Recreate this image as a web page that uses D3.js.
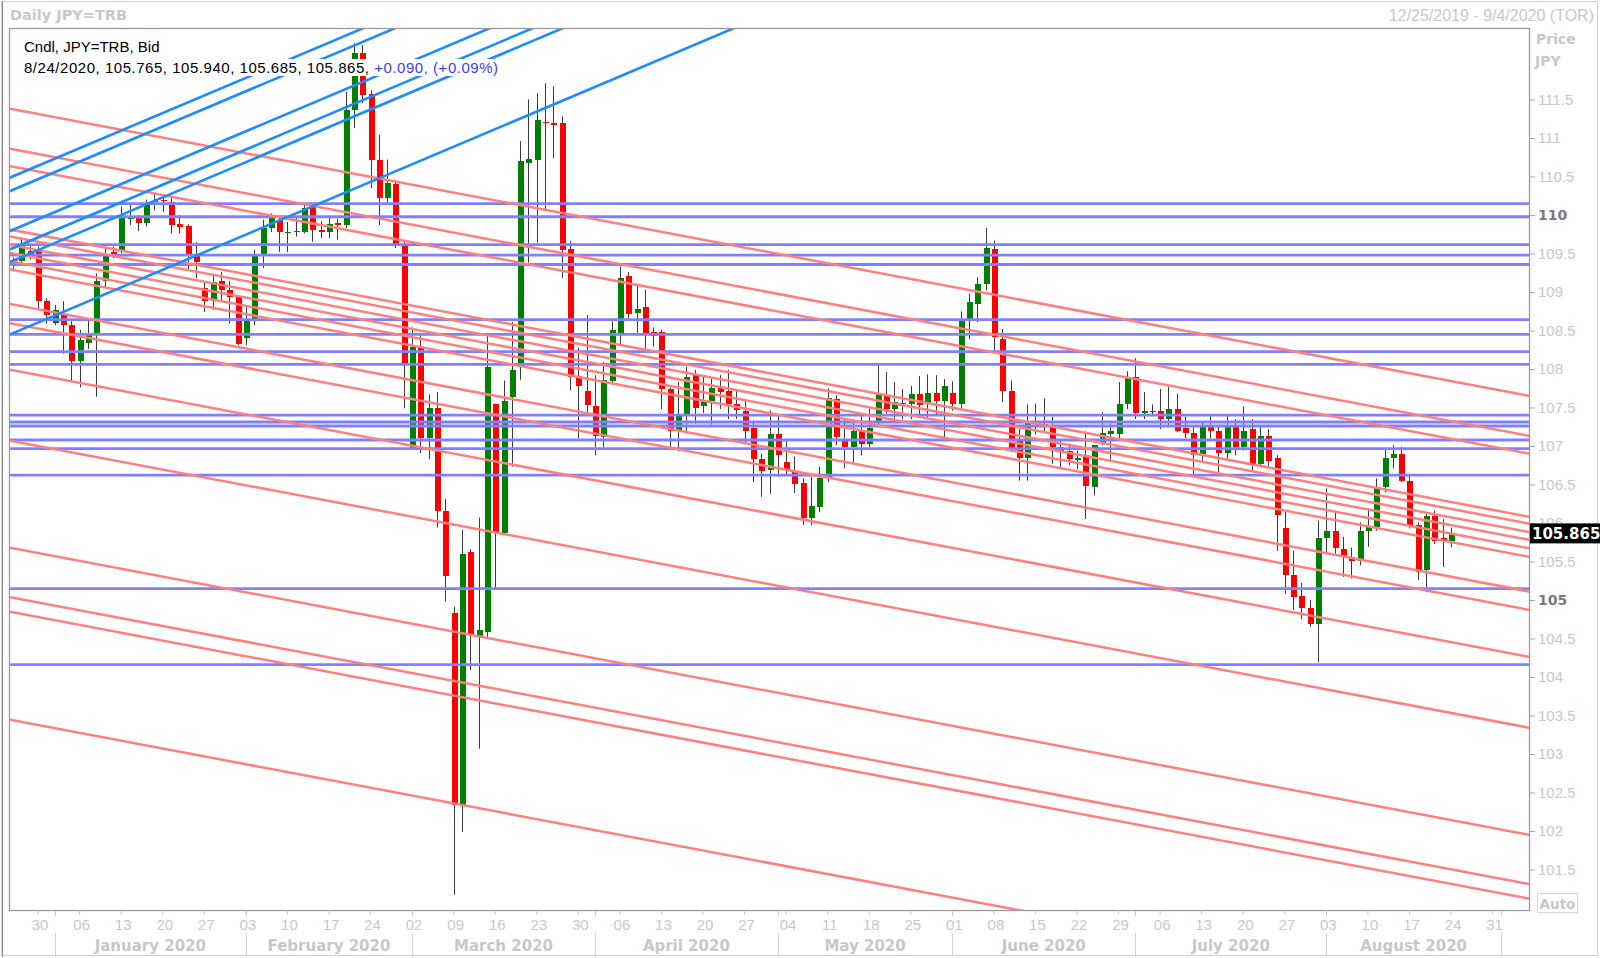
<!DOCTYPE html>
<html><head><meta charset="utf-8">
<script src="https://cdn.jsdelivr.net/npm/d3@7"></script>
<style>html,body{margin:0;padding:0;background:#fff}svg{display:block}</style>
</head><body>
<svg id="chart" width="1600" height="958"></svg>
<script>
// ---------------- DATA ----------------
const symbol = "JPY=TRB";
const rangeStart = new Date(2019, 11, 25);
const rangeEnd = new Date(2020, 8, 4);

const opens = [
109.41,109.40,109.53,109.53,108.88,108.60,108.72,108.57,108.10,108.34,
108.44,109.14,109.52,109.53,109.95,109.96,109.90,110.17,110.20,110.17,
109.88,109.86,109.48,109.05,108.88,109.14,109.03,108.94,108.40,108.64,
109.48,109.83,109.94,109.76,109.78,109.78,110.10,109.81,109.78,109.89,
109.87,111.36,112.10,111.57,110.72,110.22,110.40,109.61,106.98,108.29,
107.10,107.50,106.15,104.83,102.34,105.62,104.53,104.58,107.54,105.87,
107.63,108.02,110.67,110.72,111.21,111.20,111.19,109.56,107.91,107.72,
107.52,107.12,107.85,108.47,109.21,108.73,108.80,108.48,108.48,107.74,
107.19,107.39,107.93,107.52,107.59,107.75,107.71,107.55,107.46,107.23,
106.83,106.69,107.15,106.79,106.68,106.52,106.06,106.21,106.59,107.61,
107.07,106.99,107.20,107.03,107.31,107.66,107.48,107.55,107.54,107.67,
107.54,107.69,107.59,107.69,107.55,108.62,108.85,109.10,109.56,108.39,
107.72,107.06,106.84,107.30,107.29,107.25,106.99,106.94,106.83,106.88,
106.47,107.04,107.16,107.16,107.55,107.90,107.43,107.45,107.45,107.35,
107.48,107.23,107.17,106.87,107.25,107.19,106.91,107.25,106.99,107.22,
106.76,107.13,106.84,105.93,105.33,105.05,104.90,104.69,105.80,105.90,
105.66,105.56,105.50,105.89,105.95,106.47,106.84,106.89,106.55,105.97,
105.39,106.09,105.80,105.765];
const highs = [
109.45,109.70,109.60,109.59,108.92,108.83,108.88,108.62,108.51,108.64,
109.24,109.57,109.59,110.11,110.13,110.00,110.20,110.28,110.24,110.22,
110.00,109.88,109.65,109.13,109.22,109.26,109.14,108.96,108.81,109.55,
109.94,110.02,109.98,109.91,109.96,110.13,110.13,109.92,109.97,109.95,
111.60,112.23,112.21,111.62,111.04,110.72,110.45,109.66,108.54,108.47,
107.67,107.70,106.31,104.91,105.91,105.66,106.07,108.47,107.55,107.85,
108.61,110.96,111.50,111.58,111.71,111.67,111.28,109.66,108.27,108.70,
107.92,108.09,108.62,109.33,109.26,109.09,109.03,108.54,108.51,107.76,
107.83,108.03,107.99,107.92,107.87,107.92,107.99,107.73,107.60,107.33,
106.90,107.46,107.40,107.06,106.86,106.58,106.60,106.73,107.75,107.66,
107.35,107.35,107.40,107.48,108.05,107.96,107.83,107.74,107.78,107.91,
107.93,107.92,107.87,107.84,108.75,108.98,109.19,109.83,109.67,108.52,
107.85,107.22,107.54,107.55,107.62,107.38,107.09,107.03,106.94,107.19,
107.01,107.44,107.29,107.83,107.97,108.14,107.70,107.54,107.74,107.77,
107.68,107.38,107.25,107.30,107.39,107.26,107.39,107.35,107.51,107.35,
107.25,107.22,106.88,106.16,105.64,105.22,105.00,106.03,106.45,106.16,
105.82,105.68,106.01,106.19,106.58,106.96,107.01,106.99,106.62,106.01,
106.12,106.16,106.05,105.94];
const lows = [
109.27,109.37,109.42,108.79,108.59,108.57,108.20,107.84,107.76,108.26,
107.64,109.05,109.44,109.50,109.87,109.79,109.85,110.06,110.04,109.76,
109.76,109.29,109.18,108.74,108.77,108.88,108.59,108.31,108.31,108.57,
109.31,109.78,109.52,109.52,109.72,109.76,109.65,109.70,109.70,109.68,
109.83,111.13,111.45,110.35,109.87,110.13,109.57,107.49,106.96,106.91,
106.83,105.94,104.98,101.17,101.99,104.09,103.07,104.51,105.15,105.87,
106.73,107.86,109.38,109.64,110.07,110.74,109.18,107.72,107.10,107.40,
106.88,106.98,107.80,108.32,108.66,108.47,108.22,108.29,107.48,106.98,
106.93,107.16,107.29,107.43,107.28,107.48,107.35,107.35,107.03,106.53,
106.34,106.38,106.60,106.61,106.39,105.97,105.97,106.14,106.53,107.01,
106.71,106.76,106.88,106.99,107.27,107.42,107.35,107.35,107.35,107.38,
107.35,107.40,107.09,107.46,107.49,108.39,108.61,109.02,108.22,107.57,
106.92,106.55,106.55,107.15,107.18,106.77,106.71,106.75,106.70,106.05,
106.36,107.01,106.81,107.09,107.48,107.35,107.35,107.41,107.22,107.25,
107.18,107.10,106.60,106.79,107.10,106.66,106.81,106.88,106.94,106.67,
106.73,106.70,105.64,105.08,104.87,104.75,104.65,104.19,105.60,105.60,
105.30,105.28,105.45,105.69,105.90,106.40,106.71,106.53,105.93,105.26,
105.10,105.73,105.43,105.685];
const closes = [
109.38,109.61,109.50,108.88,108.70,108.77,108.57,108.10,108.38,108.44,
109.14,109.48,109.49,109.96,109.98,109.90,110.13,110.18,110.19,109.87,
109.84,109.48,109.39,108.88,109.13,109.03,108.94,108.33,108.64,109.48,
109.83,109.96,109.78,109.78,109.79,110.09,109.81,109.78,109.88,109.87,
111.36,112.10,111.56,110.72,110.22,110.41,109.61,108.08,108.29,107.10,
107.50,106.15,105.31,102.34,105.60,104.56,104.61,108.02,105.88,107.59,
107.99,110.70,110.73,111.23,111.19,111.17,109.55,107.90,107.78,107.53,
107.13,107.86,108.51,109.18,108.72,108.78,108.47,108.43,107.74,107.19,
107.39,107.89,107.49,107.60,107.75,107.70,107.55,107.47,107.20,106.83,
106.67,107.15,106.88,106.69,106.51,106.06,106.22,106.59,107.62,107.12,
106.99,107.19,107.03,107.23,107.68,107.48,107.57,107.56,107.67,107.53,
107.69,107.59,107.78,107.55,108.62,108.87,109.11,109.57,108.42,107.71,
106.97,106.84,107.31,107.28,107.29,106.99,106.93,106.83,106.84,106.48,
107.01,107.17,107.19,107.55,107.90,107.43,107.45,107.46,107.35,107.48,
107.20,107.17,106.88,107.25,107.19,106.91,107.25,106.99,107.20,106.75,
107.13,106.81,106.10,105.33,105.04,104.90,104.69,105.80,105.90,105.67,
105.56,105.51,105.89,105.95,106.47,106.84,106.90,106.55,105.97,105.37,
106.09,105.77,105.775,105.865];

// horizontal support / resistance levels
const levelPrices = [110.147,109.977,109.614,109.480,109.357,108.640,108.449,108.226,108.060,
  107.402,107.312,107.260,107.078,106.965,106.623,105.148,104.162];

// falling trendlines (price at two anchor dates)
const redAnchorDates = ["2019-12-25", "2020-09-02"];
const redStartPrices = [111.373,110.853,110.626,109.803,109.714,109.604,109.499,109.392,109.284,
  108.836,108.587,107.983,107.061,105.671,105.029,104.840,103.438];
const redEndPrices = [107.70,107.18,106.95,106.13,106.04,105.93,105.83,105.72,105.61,
  105.16,104.92,104.31,103.39,102.00,101.36,101.17,99.77];

// rising trendlines
const blueAnchorDates = ["2019-12-25", "2020-03-04"];
const blueStartPrices = [110.503,110.328,109.809,109.572,109.407,108.467];
const blueEndPrices = [112.786,112.611,112.091,111.855,111.690,110.750];

const yTickValues = [101.5,102,102.5,103,103.5,104,104.5,105,105.5,106,106.5,107,107.5,108,108.5,109,109.5,110,110.5,111,111.5];
const boldTickValues = [105, 110];
const monthLabels = ["January 2020","February 2020","March 2020","April 2020","May 2020","June 2020","July 2020","August 2020"];
const priceDomain = [100.974, 112.4286];

// ---------------- LAYOUT ----------------
const PL = 9, PR = 1530, PT = 28, PB = 910;
const FONT_REG = "'Liberation Sans', Arial, sans-serif";
const FONT_BOLD = "'DejaVu Sans', Verdana, sans-serif";
const LIGHT = "#c8c8c8";

const svg = d3.select("#chart");
const key = d3.timeFormat("%Y-%m-%d");
const dates = d3.timeDay.range(rangeStart, d3.timeDay.offset(rangeEnd, 1)).filter(d => d.getDay() % 6 !== 0);
const x = d3.scaleBand().domain(dates.map(key)).range([PL, PR]).paddingInner(0).paddingOuter(0);
const xc = k => x(k) + x.bandwidth() / 2;
const y = d3.scaleLinear().domain(priceDomain).range([PB, PT]);

svg.append("rect").attr("width", 1600).attr("height", 958).attr("fill", "#fff");
// outer frame
svg.append("rect").attr("x", 1.5).attr("y", 1.5).attr("width", 1596).attr("height", 954)
  .attr("fill", "none").attr("stroke", "#d0d0d0");
svg.append("line").attr("x1", 2.5).attr("x2", 2.5).attr("y1", 1).attr("y2", 957).attr("stroke", "#8c8c8c");

// titles
svg.append("text").attr("x", 10).attr("y", 20).attr("font-family", FONT_BOLD).attr("font-weight", "bold")
  .attr("font-size", 14.5).attr("fill", LIGHT).text("Daily " + symbol);
const mdy = d => `${d.getMonth() + 1}/${d.getDate()}/${d.getFullYear()}`;
svg.append("text").attr("x", 1594).attr("y", 21).attr("text-anchor", "end").attr("font-family", FONT_REG)
  .attr("font-size", 16).attr("fill", LIGHT).text(`${mdy(rangeStart)} - ${mdy(rangeEnd)} (TOR)`);

// clip
svg.append("clipPath").attr("id", "plotclip").append("rect")
  .attr("x", PL).attr("y", PT).attr("width", PR - PL).attr("height", PB - PT);

const plot = svg.append("g").attr("clip-path", "url(#plotclip)");

// candles
const idx = d3.range(opens.length);
const cg = plot.append("g");
cg.selectAll("line.wick").data(idx).join("line").attr("class", "wick")
  .attr("x1", i => Math.round(xc(key(dates[i]))) + 0.5).attr("x2", i => Math.round(xc(key(dates[i]))) + 0.5)
  .attr("y1", i => y(highs[i])).attr("y2", i => y(lows[i]))
  .attr("stroke", "#3a3a3a").attr("stroke-width", 1);
cg.selectAll("rect.body").data(idx).join("rect").attr("class", "body")
  .attr("x", i => Math.round(xc(key(dates[i]))) - 2)
  .attr("width", 6)
  .attr("y", i => y(Math.max(opens[i], closes[i])))
  .attr("height", i => Math.max(1.2, Math.abs(y(opens[i]) - y(closes[i]))))
  .attr("fill", i => closes[i] > opens[i] ? "#008000" : (closes[i] < opens[i] ? "#ff0000" : "#000"))
  .attr("shape-rendering", "crispEdges");

// horizontal levels
plot.append("g").selectAll("line").data(levelPrices).join("line")
  .attr("x1", PL).attr("x2", PR).attr("y1", d => y(d)).attr("y2", d => y(d))
  .attr("stroke", "#8080ff").attr("stroke-width", 2.8);

function trend(d1, p1, d2, p2) {
  const xa = xc(d1), ya = y(p1), xb = xc(d2), yb = y(p2);
  const m = (yb - ya) / (xb - xa);
  return { x1: 0, y1: ya + m * (0 - xa), x2: 1600, y2: ya + m * (1600 - xa) };
}
plot.append("g").selectAll("line").data(d3.range(redStartPrices.length)).join("line")
  .each(function (i) {
    const t = trend(redAnchorDates[0], redStartPrices[i], redAnchorDates[1], redEndPrices[i]);
    d3.select(this).attr("x1", t.x1).attr("y1", t.y1).attr("x2", t.x2).attr("y2", t.y2);
  })
  .attr("stroke", "#ff7f7f").attr("stroke-width", 2.5);
plot.append("g").selectAll("line").data(d3.range(blueStartPrices.length)).join("line")
  .each(function (i) {
    const t = trend(blueAnchorDates[0], blueStartPrices[i], blueAnchorDates[1], blueEndPrices[i]);
    d3.select(this).attr("x1", t.x1).attr("y1", t.y1).attr("x2", t.x2).attr("y2", t.y2);
  })
  .attr("stroke", "#1e8cff").attr("stroke-width", 2.6);

// header legend with white background
const last = opens.length - 1;
const ld = dates[last];
const f3 = d3.format(".3f");
const chg = closes[last] - closes[last - 1];
const pct = chg / closes[last - 1] * 100;
const hdr = svg.append("g");
const t1 = hdr.append("text").attr("x", 24).attr("y", 52).attr("font-family", FONT_REG).attr("font-size", 15)
  .attr("fill", "#000").text(`Cndl, ${symbol}, Bid`);
const t2 = hdr.append("text").attr("x", 24).attr("y", 73).attr("font-family", FONT_REG).attr("font-size", 15)
  .attr("letter-spacing", 0.53);
t2.append("tspan").attr("fill", "#000")
  .text(`${mdy(ld)}, ${f3(opens[last])}, ${f3(highs[last])}, ${f3(lows[last])}, ${f3(closes[last])}, `);
t2.append("tspan").attr("fill", "#3c3cf5")
  .text(`${chg >= 0 ? "+" : ""}${f3(chg)}, (${pct >= 0 ? "+" : ""}${pct.toFixed(2)}%)`);
[t1, t2].forEach(t => {
  const b = t.node().getBBox();
  hdr.insert("rect", "text").attr("x", b.x - 2).attr("y", b.y).attr("width", b.width + 4).attr("height", b.height)
    .attr("fill", "#fff");
});

// plot border
svg.append("rect").attr("x", PL + 0.5).attr("y", PT + 0.5).attr("width", PR - PL - 1).attr("height", PB - PT)
  .attr("fill", "none").attr("stroke", "#9a9a9a").attr("stroke-width", 1.3);

// right axis
const yAxis = d3.axisRight(y).tickValues(yTickValues).tickSize(5).tickPadding(3)
  .tickFormat(d => d % 1 === 0 ? d.toFixed(0) : d.toFixed(1));
const ya = svg.append("g").attr("transform", `translate(${PR},0)`).call(yAxis);
ya.select(".domain").remove();
ya.selectAll(".tick line").attr("stroke", "#a8a8a8");
ya.selectAll(".tick text").attr("font-family", FONT_REG).attr("font-size", 15).attr("fill", LIGHT);
ya.selectAll(".tick text").filter(d => boldTickValues.includes(d))
  .attr("font-family", FONT_BOLD).attr("font-weight", "bold").attr("font-size", 14).attr("fill", "#7a7a7a");
svg.append("text").attr("x", 1536).attr("y", 44).attr("font-family", FONT_BOLD).attr("font-weight", "bold")
  .attr("font-size", 14).attr("fill", LIGHT).text("Price");
svg.append("text").attr("x", 1535).attr("y", 65.5).attr("font-family", FONT_BOLD).attr("font-weight", "bold")
  .attr("font-size", 14).attr("fill", LIGHT).text("JPY");

// last price marker
const lyp = y(closes[last]);
svg.append("rect").attr("x", PR).attr("y", lyp - 10).attr("width", 70).attr("height", 20).attr("fill", "#000");
svg.append("text").attr("x", 1532).attr("y", lyp + 5.5).attr("font-family", FONT_BOLD).attr("font-weight", "bold")
  .attr("font-size", 15).attr("fill", "#fff").text(f3(closes[last]));

// Auto box
svg.append("rect").attr("x", 1537.5).attr("y", 893.5).attr("width", 40).attr("height", 19)
  .attr("fill", "#fff").attr("stroke", "#d4d4d4");
svg.append("text").attr("x", 1557.5).attr("y", 908.5).attr("text-anchor", "middle").attr("font-family", FONT_BOLD)
  .attr("font-weight", "bold").attr("font-size", 13.5).attr("fill", LIGHT).text("Auto");

// bottom axis: weekly (Monday) labels
const mondays = dates.filter(d => d.getDay() === 1).map(key);
const dayFmt = d3.timeFormat("%d");
const xAxis = d3.axisBottom(x).tickValues(mondays).tickSize(4).tickPadding(5)
  .tickFormat(k => dayFmt(d3.timeParse("%Y-%m-%d")(k)));
const xa = svg.append("g").attr("transform", `translate(0,${PB + 0.5})`).call(xAxis);
xa.select(".domain").remove();
xa.selectAll(".tick line").attr("stroke", "#c8c8c8");
xa.selectAll(".tick text").attr("font-family", FONT_REG).attr("font-size", 15).attr("fill", LIGHT).attr("dx", 2);

// month separators and labels
const monthStarts = dates.filter((d, i) => i > 0 && d.getMonth() !== dates[i - 1].getMonth()).map(key);
const mg = svg.append("g");
mg.selectAll("line.sep").data(monthStarts).join("line").attr("class", "sep")
  .attr("x1", k => Math.round(xc(k)) + 0.5).attr("x2", k => Math.round(xc(k)) + 0.5)
  .attr("y1", 933).attr("y2", 956).attr("stroke", "#cfcfcf");
mg.selectAll("line.tk").data(monthStarts).join("line").attr("class", "tk")
  .attr("x1", k => Math.round(xc(k)) + 0.5).attr("x2", k => Math.round(xc(k)) + 0.5)
  .attr("y1", PB + 1).attr("y2", PB + 6).attr("stroke", "#c8c8c8");
mg.selectAll("text").data(monthLabels).join("text")
  .attr("x", (d, i) => (xc(monthStarts[i]) + xc(monthStarts[i + 1])) / 2)
  .attr("y", 950.5).attr("text-anchor", "middle").attr("font-family", FONT_BOLD).attr("font-weight", "bold")
  .attr("font-size", 15).attr("fill", LIGHT).text(d => d);
</script>
</body></html>
